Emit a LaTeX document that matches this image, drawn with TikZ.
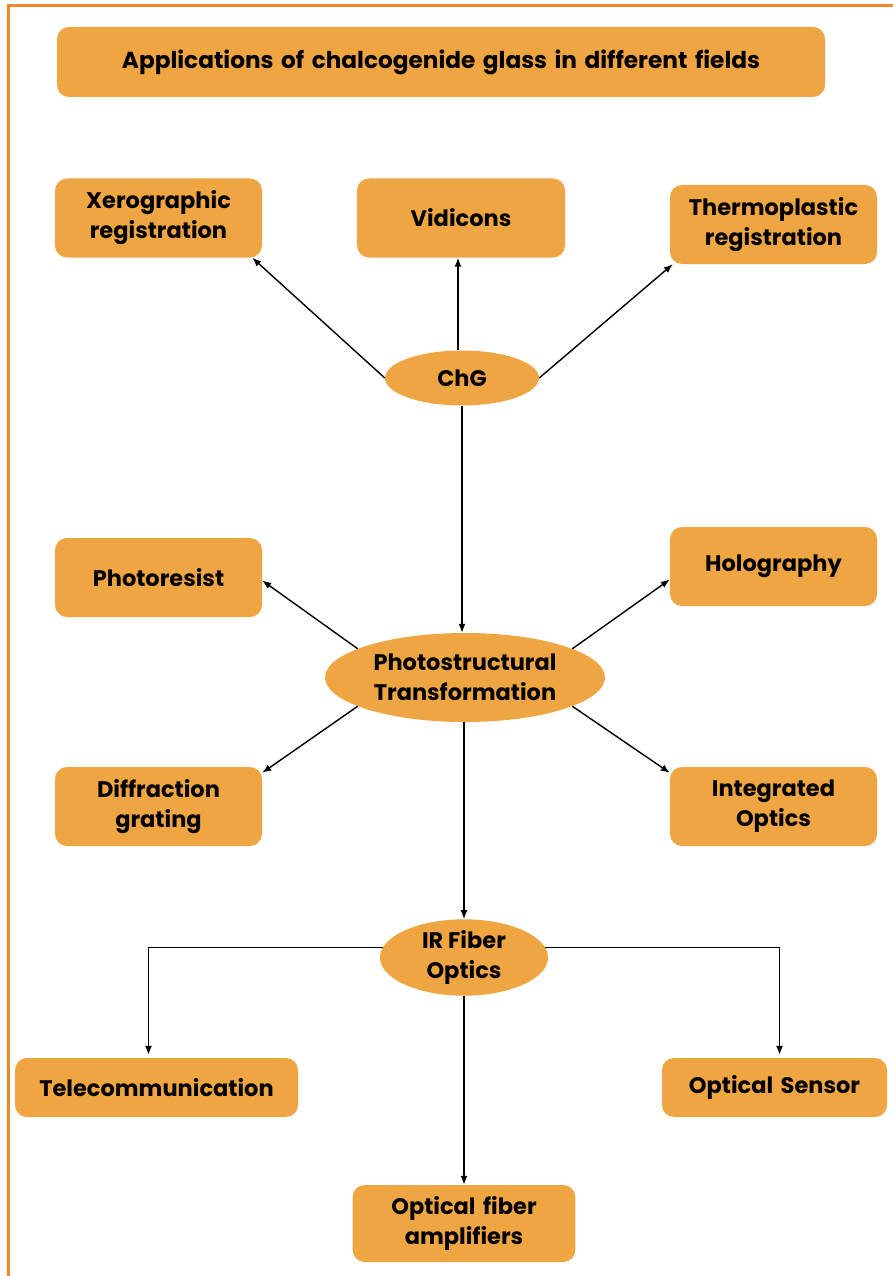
\documentclass[tikz,border=0pt]{standalone}
\usepackage{fontspec}
\setmainfont{Poppins}
\usetikzlibrary{shapes.geometric, arrows.meta}
\definecolor{boxorange}{RGB}{239,165,66}
\definecolor{lineorange}{RGB}{238,136,40}
\begin{document}
\begin{tikzpicture}[x=1pt, y=-1pt, >={Latex[length=9pt, width=7pt]}]

    \tikzstyle{box} = [rectangle, rounded corners=12pt, fill=boxorange, draw=none,
                       minimum width=207pt, minimum height=79pt, text width=200pt,
                       align=center, font=\fontsize{22.5}{30}\selectfont\bfseries]
    \tikzstyle{oval} = [ellipse, fill=boxorange, draw=none, inner sep=0pt,
                        align=center, font=\fontsize{22.5}{30}\selectfont\bfseries]
    \tikzstyle{link} = [->, line width=1.4pt]

    \useasboundingbox (0,0) rectangle (893,1276);
    \fill[white] (0,0) rectangle (893,1276);
    \draw[lineorange, line width=3pt] (8,1276) -- (8,6) -- (893,6);

    % Nodes
    \node[box, minimum width=768pt, minimum height=70pt, text width=760pt] (title) at (441,62)
        {\fontsize{23.2}{26}\selectfont Applications of chalcogenide glass in different fields};
    \node[box] (xero) at (158.5,218) {Xerographic\\registration};
    \node[box, minimum width=208pt] (vidicon) at (461,218) {Vidicons};
    \node[box] (thermo) at (773.5,224.5) {Thermoplastic\\registration};
    \node[oval, minimum width=154pt, minimum height=55pt] (chg) at (462,378) {ChG};
    \node[box] (resist) at (158.5,577.5) {Photoresist};
    \node[box] (holo) at (773.5,566.5) {Holography};
    \node[oval, minimum width=280pt, minimum height=89pt] (photo) at (465,677.5)
        {Photostructural\\Transformation};
    \node[box] (grating) at (158.5,806.5) {Diffraction\\grating};
    \node[box] (integ) at (773.5,806.5) {Integrated\\Optics};
    \node[oval, minimum width=168pt, minimum height=65pt] (irfiber) at (464,957.5)
        {IR Fiber\\Optics};
    \node[box, minimum width=283pt, minimum height=59pt, text width=276pt] (telecom) at (156.5,1087.5)
        {Telecommunication};
    \node[box, minimum width=225pt, minimum height=59pt, text width=218pt] (sensor) at (774.5,1087.5)
        {Optical Sensor};
    \node[box, minimum width=222pt, minimum height=77pt, text width=216pt] (amplifier) at (464,1223.5)
        {Optical fiber\\amplifiers};

    % Arrows
    \draw[link] (chg.west) -- ([xshift=-10pt]xero.south east);
    \draw[link] ([xshift=-4pt]chg.north) -- ([xshift=-4pt]chg.north |- vidicon.south);
    \draw[link] (chg.east) -- ([xshift=3pt]thermo.south west);
    \draw[link] (chg.south) -- (chg.south |- photo.north);

    \draw[link] (photo.165) -- ([yshift=-3pt]resist.east);
    \draw[link] (photo.15) -- ([yshift=-13pt]holo.west);
    \draw[link] (photo.195) -- ([yshift=-6pt]grating.north east);
    \draw[link] (photo.345) -- ([yshift=-6pt]integ.north west);
    \draw[link] ([xshift=-1pt]photo.south) -- ([xshift=-1pt]photo.south |- irfiber.north);

    % Fiber branches
    \draw[link] (irfiber.173) -| ([xshift=-8pt, yshift=3pt]telecom.north);
    \draw[link] (irfiber.7) -| ([xshift=5pt, yshift=3pt]sensor.north);
    \draw[link] (irfiber.south) -- (amplifier.north);

\end{tikzpicture}
\end{document}
